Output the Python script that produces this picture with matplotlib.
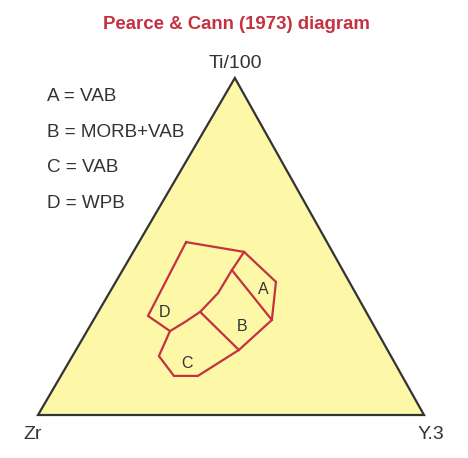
import numpy as np
import matplotlib
matplotlib.use("Agg")
import matplotlib.pyplot as plt
from matplotlib.patches import Polygon

plt.rcParams['font.family'] = ['Liberation Sans', 'DejaVu Sans']

# ternary field boundaries, percentages (Ti/100, Y.3); Zr = 100 - Ti - Y
outline_ti = [51.3, 48.4, 39.5, 28.2, 19.3, 11.6, 11.6, 17.5, 24.9, 29.4, 51.3]
outline_y = [12.2, 28.7, 41.5, 46.2, 42.2, 35.5, 29.3, 22.4, 21.5, 13.5, 12.2]
# D / B boundary (curved), from C-D junction up to top-right corner
db_ti = [24.9, 27.6, 30.6, 36.2, 43.0, 48.4]
db_y = [21.5, 24.0, 26.4, 28.2, 28.3, 28.7]
# A / B boundary
ab_ti = [43.0, 28.2]
ab_y = [28.3, 46.2]
# B / C boundary
bc_ti = [30.6, 19.3]
bc_y = [26.4, 42.2]

field_names = ['A', 'B', 'C', 'D']
field_ti = [37.1, 26.4, 15.4, 30.3]
field_y = [39.4, 39.4, 30.7, 17.2]
legend_lines = ['A = VAB', 'B = MORB+VAB', 'C = VAB', 'D = WPB']

red = '#c4323f'
grey = '#333333'
TI_X = 0.51  # horizontal position of the Ti apex (fraction of base)


def proj(ti, y):
    ti = np.asarray(ti) / 100.0
    y = np.asarray(y) / 100.0
    return y + TI_X * ti, ti


fig = plt.figure(figsize=(4.68, 4.58), dpi=100)
W, H = 468, 458
ax = fig.add_axes([38 / W, (H - 415) / H, 386 / W, 337 / H])
ax.set_xlim(0, 1)
ax.set_ylim(0, 1)
ax.axis('off')

tri = Polygon([proj(0, 0), proj(0, 100), proj(100, 0)], closed=True,
              facecolor='#fdf7a8', edgecolor=grey, linewidth=1.6, clip_on=False)
ax.add_patch(tri)

for ti, y in [(outline_ti, outline_y), (db_ti, db_y), (ab_ti, ab_y), (bc_ti, bc_y)]:
    x, yy = proj(ti, y)
    ax.plot(x, yy, color=red, linewidth=1.6, solid_joinstyle='miter')

for name, ti, y in zip(field_names, field_ti, field_y):
    x, yy = proj(ti, y)
    ax.text(x, yy, name, ha='center', va='center', fontsize=11.5, color=grey)

# apex labels
fig.text(235 / W, 1 - 68 / H, 'Ti/100', ha='center', va='baseline', fontsize=14, color=grey)
fig.text(33 / W, 1 - 439 / H, 'Zr', ha='center', va='baseline', fontsize=14, color=grey)
fig.text(431 / W, 1 - 439 / H, 'Y.3', ha='center', va='baseline', fontsize=14, color=grey)

fig.text(236 / W, 1 - 29 / H, 'Pearce & Cann (1973) diagram', ha='center', va='baseline',
         fontsize=13.4, fontweight='bold', color=red)

for i, line in enumerate(legend_lines):
    fig.text(47 / W, 1 - (101 + i * 35.7) / H, line, ha='left', va='baseline',
             fontsize=13.6, color=grey)

fig.savefig('out.png', dpi=100, facecolor='white')
